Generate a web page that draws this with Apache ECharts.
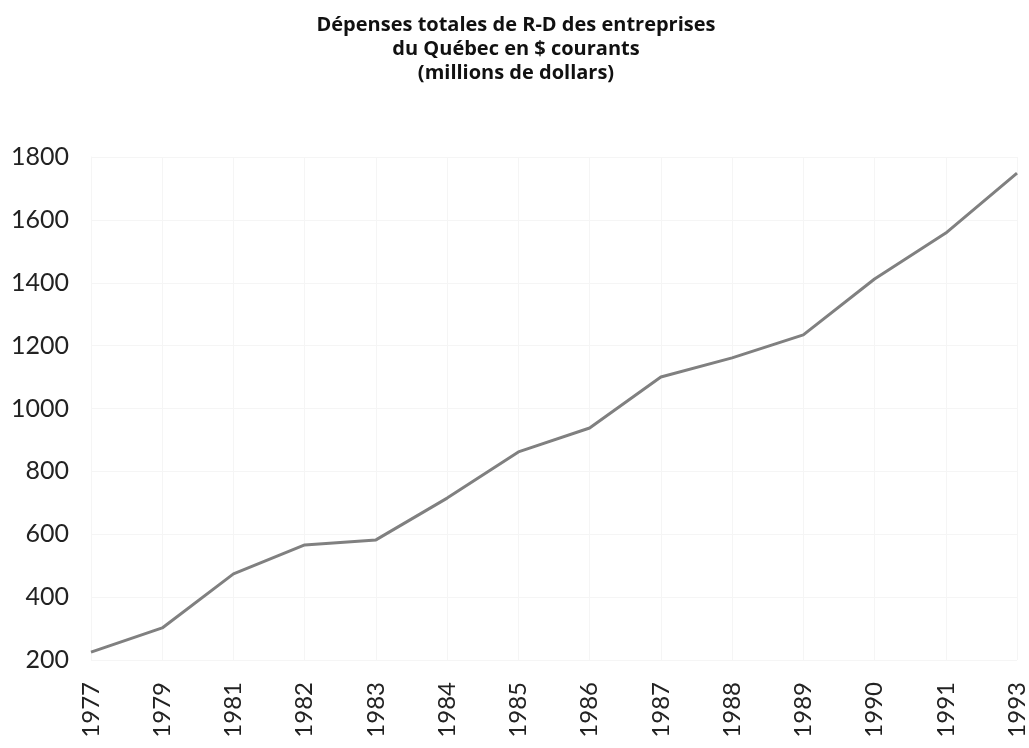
<!DOCTYPE html>
<html>
<head>
<meta charset="utf-8">
<script src="https://cdn.jsdelivr.net/npm/echarts@6/dist/echarts.min.js"></script>
<style>
  html, body { margin: 0; padding: 0; background: #fff; }
  #chart { width: 1029px; height: 748px; }
</style>
</head>
<body>
<div id="chart"></div>
<script>
// years shown on the category axis
const years = ["1977", "1979", "1981", "1982", "1983", "1984", "1985", "1986",
  "1987", "1988", "1989", "1990", "1991", "1993"];
// business R&D spending, millions of current dollars
const spending = [225, 302, 474, 566, 582, 715, 862, 938, 1100, 1161, 1234, 1412, 1558, 1749];
const yTicks = [200, 400, 600, 800, 1000, 1200, 1400, 1600, 1800];

const chart = echarts.init(document.getElementById("chart"));

chart.setOption({
  animation: false,
  title: {
    text: "Dépenses totales de R-D des entreprises\ndu Québec en $ courants\n(millions de dollars)",
    left: 511,
    top: 8,
    textAlign: "center",
    textStyle: {
      fontFamily: "Open Sans",
      fontWeight: "bold",
      fontSize: 20,
      lineHeight: 24,
      color: "#111"
    }
  },
  grid: { left: 91, right: 7, top: 157, bottom: 88 },
  xAxis: {
    type: "category",
    data: years,
    boundaryGap: false,
    axisLine: { show: false },
    axisTick: { show: false },
    splitLine: { show: true, lineStyle: { color: "#f5f5f5", width: 1 } },
    axisLabel: {
      rotate: 90,
      margin: 22,
      fontFamily: "Lato",
      fontSize: 24,
      color: "#222"
    }
  },
  yAxis: {
    type: "value",
    min: yTicks[0],
    max: yTicks[yTicks.length - 1],
    interval: 200,
    axisLine: { show: true, lineStyle: { color: "#f5f5f5" } },
    axisTick: { show: false },
    splitLine: { lineStyle: { color: "#f5f5f5", width: 1 } },
    axisLabel: {
      margin: 22,
      fontFamily: "Lato",
      fontSize: 25,
      color: "#222",
      formatter: (v) => String(v)
    }
  },
  series: [{
    type: "line",
    data: spending,
    symbol: "none",
    lineStyle: { color: "#808080", width: 3 }
  }]
});
</script>
</body>
</html>
